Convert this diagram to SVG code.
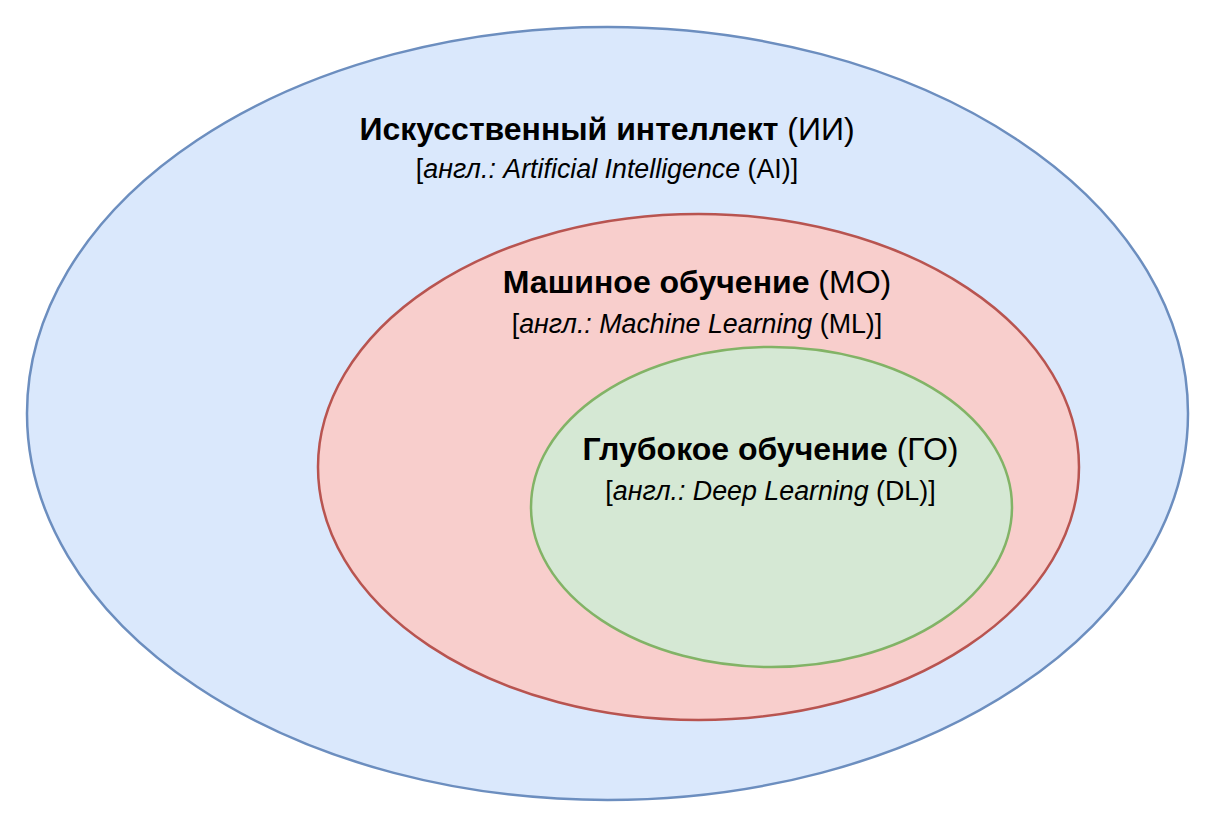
<svg xmlns="http://www.w3.org/2000/svg" width="1216" height="829" viewBox="0 0 1216 829">
<style>
text{font-family:"Liberation Sans",Arial,sans-serif;fill:#000;text-anchor:middle}
.t{font-size:32px}
.s{font-size:26.8px}
.b{font-weight:bold}
.i{font-style:italic}
ellipse{stroke-width:2.5}
</style>
<rect width="1216" height="829" fill="#fff"/>
<g id="ai">
<ellipse cx="607.5" cy="413.5" rx="580.5" ry="386.5" fill="#dae8fc" stroke="#6c8ebf"/>
<text class="t" x="607" y="140"><tspan class="b">Искусственный интеллект</tspan> (ИИ)</text>
<text class="s" x="607" y="178">[<tspan class="i">англ.: Artificial Intelligence</tspan> (AI)]</text>
</g>
<g id="ml">
<ellipse cx="698.5" cy="467" rx="380.5" ry="253" fill="#f8cecc" stroke="#b85450"/>
<text class="t" x="697" y="293"><tspan class="b">Машиное обучение</tspan> (МО)</text>
<text class="s" x="697" y="333">[<tspan class="i">англ.: Machine Learning</tspan> (ML)]</text>
</g>
<g id="dl">
<ellipse cx="771.5" cy="507" rx="240.5" ry="160" fill="#d5e8d4" stroke="#82b366"/>
<text class="t" x="770.5" y="460"><tspan class="b">Глубокое обучение</tspan> (ГО)</text>
<text class="s" x="770.5" y="500">[<tspan class="i">англ.: Deep Learning</tspan> (DL)]</text>
</g>
<g id="connectors"/>
</svg>
